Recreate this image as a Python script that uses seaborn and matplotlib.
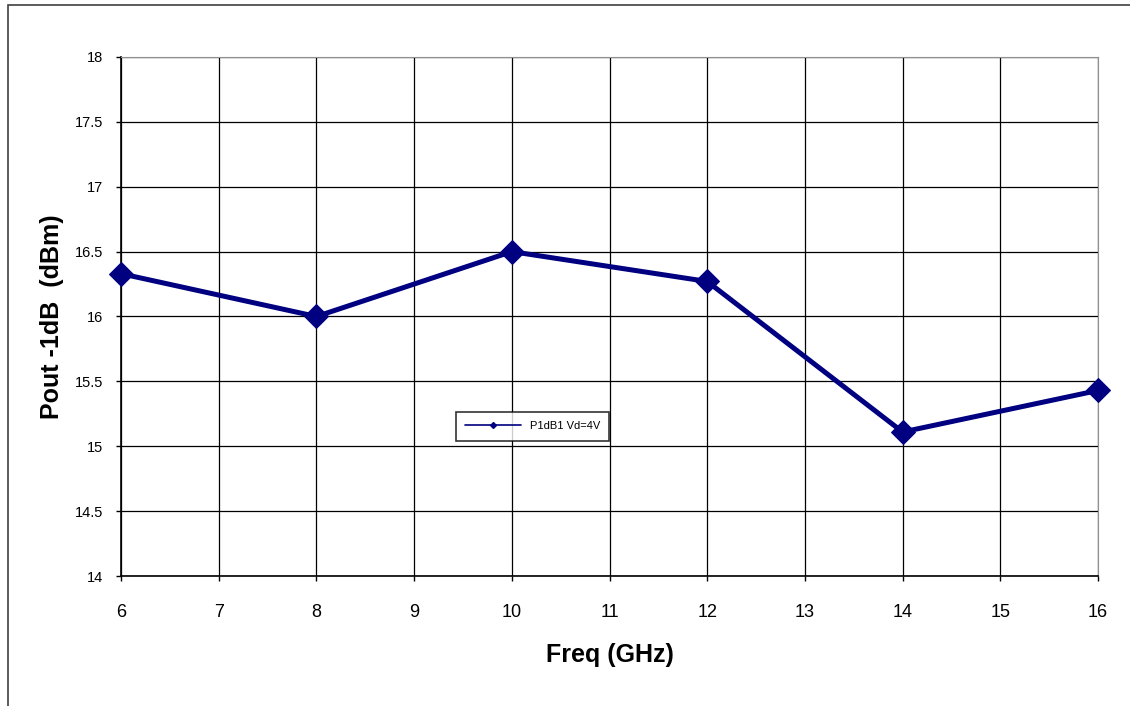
import matplotlib
matplotlib.use("Agg")
import matplotlib.pyplot as plt
import seaborn as sns
import pandas as pd
from matplotlib.patches import Rectangle

# data
freq = [6, 8, 10, 12, 14, 16]
pout = [16.33, 16.0, 16.5, 16.27, 15.11, 15.43]
series_name = "P1dB1 Vd=4V"

df = pd.DataFrame({"Freq": freq, "Pout": pout})

sns.set_style("white")
plt.rcParams['font.family'] = ['Liberation Sans', 'DejaVu Sans']
plt.rcParams['text.color'] = 'black'
plt.rcParams['axes.labelcolor'] = 'black'
plt.rcParams['xtick.color'] = 'black'
plt.rcParams['ytick.color'] = 'black'

fig = plt.figure(figsize=(11.3, 7.06), dpi=100)
ax = fig.add_axes([0.1071, 0.1841, 0.8646, 0.7352])

# outer chart frame
fig.patches.append(Rectangle((8 / 1130, -0.01), 1.2, 1 - 5 / 706 + 0.01,
                             transform=fig.transFigure, fill=False,
                             edgecolor="#404040", linewidth=1.2))

sns.lineplot(data=df, x="Freq", y="Pout", ax=ax, color="#000080",
             linewidth=3.6, marker="D", markersize=12, markeredgecolor="#000080",
             label=series_name, legend=False, clip_on=False, zorder=5)

ax.set_xlim(6, 16)
ax.set_ylim(14, 18)
ax.set_xticks(range(6, 17))
ax.set_yticks([14, 14.5, 15, 15.5, 16, 16.5, 17, 17.5, 18])
ax.set_yticklabels(["14", "14.5", "15", "15.5", "16", "16.5", "17", "17.5", "18"])

ax.grid(True, color="black", linewidth=0.9)
ax.set_axisbelow(True)
for side in ["top", "right"]:
    ax.spines[side].set_color("#909090")
for side in ["left", "bottom"]:
    ax.spines[side].set_color("black")
    ax.spines[side].set_linewidth(1.2)

ax.tick_params(axis="both", direction="out", length=3.8, width=1, color="black",
               left=True, bottom=True)
ax.tick_params(axis="y", pad=9, labelsize=10.5)
ax.tick_params(axis="x", pad=16, labelsize=13)

ax.set_xlabel("Freq (GHz)", fontsize=18, fontweight="bold", labelpad=16)
ax.set_ylabel("Pout -1dB  (dBm)", fontsize=18, fontweight="bold", labelpad=8)

leg_handle = plt.Line2D([], [], color="#000080", linewidth=1.2, marker="D", markersize=3)
leg = ax.legend([leg_handle], [series_name], loc="lower left",
                bbox_to_anchor=(0.337, 0.25), fontsize=8, frameon=True,
                fancybox=False, edgecolor="black", handlelength=5,
                borderpad=0.85)
leg.get_frame().set_linewidth(1.2)

fig.savefig("out.png", dpi=100)
